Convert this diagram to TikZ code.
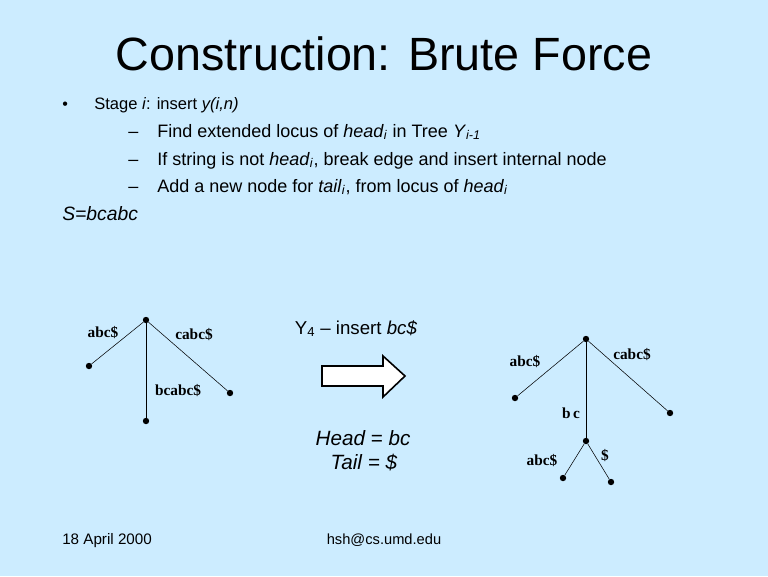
\documentclass[tikz,border=0pt]{standalone}
\usepackage{fontspec}
\setmainfont{Liberation Sans}
\newfontfamily\timesfont{Liberation Serif}
\definecolor{slide}{HTML}{CCECFF}

\begin{document}
\begin{tikzpicture}[x=0.75pt,y=-0.75pt,
  dot/.style={circle,fill,inner sep=0pt,minimum size=4.8pt},
  lbl/.style={font=\timesfont\bfseries\fontsize{11.5}{13}\selectfont},
  txt/.style={anchor=base west,inner sep=0pt,font=\fontsize{13.5}{16}\selectfont}]
\fill[slide] (0,0) rectangle (768,576);
\useasboundingbox (0,0) rectangle (768,576);

\node (title) [anchor=base,inner sep=0pt,font=\fontsize{35}{40}\selectfont] at (384,70) {Construction: Brute Force};
\node (bul) [txt,font=\fontsize{12}{14}\selectfont] at (62,109) {\textbullet};
\node (stage) [txt,font=\fontsize{12.4}{14}\selectfont] at (94,109) {Stage \textit{i}: insert \textit{y(i,n)}};
\node (d1) [txt] at (128,137) {–};
\node (find) [txt] at (157,137) {Find extended locus of \textit{head}\textsubscript{\textit{i}} in Tree \textit{Y}\textsubscript{\textit{i-1}}};
\node (d2) [txt] at (128,165) {–};
\node (brk) [txt] at (157,165) {If string is not \textit{head}\textsubscript{\textit{i}}, break edge and insert internal node};
\node (d3) [txt] at (128,192) {–};
\node (add) [txt] at (157,192) {Add a new node for \textit{tail}\textsubscript{\textit{i}}, from locus of \textit{head}\textsubscript{\textit{i}}};
\node (s) [txt,font=\fontsize{14.5}{16}\selectfont] at (62,220) {\textit{S=bcabc}};

% tree Y3
\node (r) [dot] at (146,320) {};
\node (a) [dot] at (89,366) {};
\node (c) [dot] at (230,393) {};
\node (b) [dot] at (146,421) {};
\draw (r) -- (a);
\draw (r) -- (c);
\draw (r) -- (b);
\node (la) [lbl] at (103,333) {abc\$};
\node (lc) [lbl] at (194,335) {cabc\$};
\node (lb) [lbl] at (178,391) {bcabc\$};

% step
\node (ins) [anchor=base,inner sep=0pt,font=\fontsize{14}{16}\selectfont] at (356,334) {Y\textsubscript{4} – insert \textit{bc\$}};
\draw [fill=white,line width=1.2pt] (322,366) -- (383,366) -- (383,356) -- (405,376)
  -- (383,397) -- (383,386) -- (322,386) -- cycle;
\node (hd) [anchor=base,inner sep=0pt,font=\fontsize{15.5}{18}\selectfont] at (363,445) {\textit{Head = bc}};
\node (tl) [anchor=base,inner sep=0pt,font=\fontsize{15.5}{18}\selectfont] at (364,469) {\textit{Tail = \$}};

% tree Y4
\node (r2) [dot] at (586,339) {};
\node (a2) [dot] at (515,398) {};
\node (c2) [dot] at (670,413) {};
\node (m2) [dot] at (586,441) {};
\node (x2) [dot] at (563,478) {};
\node (y2) [dot] at (611,482) {};
\draw (r2) -- (a2);
\draw (r2) -- (c2);
\draw (r2) -- (m2);
\draw (m2) -- (x2);
\draw (m2) -- (y2);
\node (la2) [lbl] at (525,362) {abc\$};
\node (lc2) [lbl] at (632,355) {cabc\$};
\node (lm2) [lbl] at (571,413) {b\,c};
\node (lx2) [lbl] at (542,461) {abc\$};
\node (ly2) [lbl] at (605,456) {\$};

\node (date) [txt,font=\fontsize{11.4}{13}\selectfont] at (62,544) {18 April 2000};
\node (mail) [anchor=base,inner sep=0pt,font=\fontsize{11}{13}\selectfont] at (384,544) {hsh@cs.umd.edu};
\end{tikzpicture}
\end{document}
